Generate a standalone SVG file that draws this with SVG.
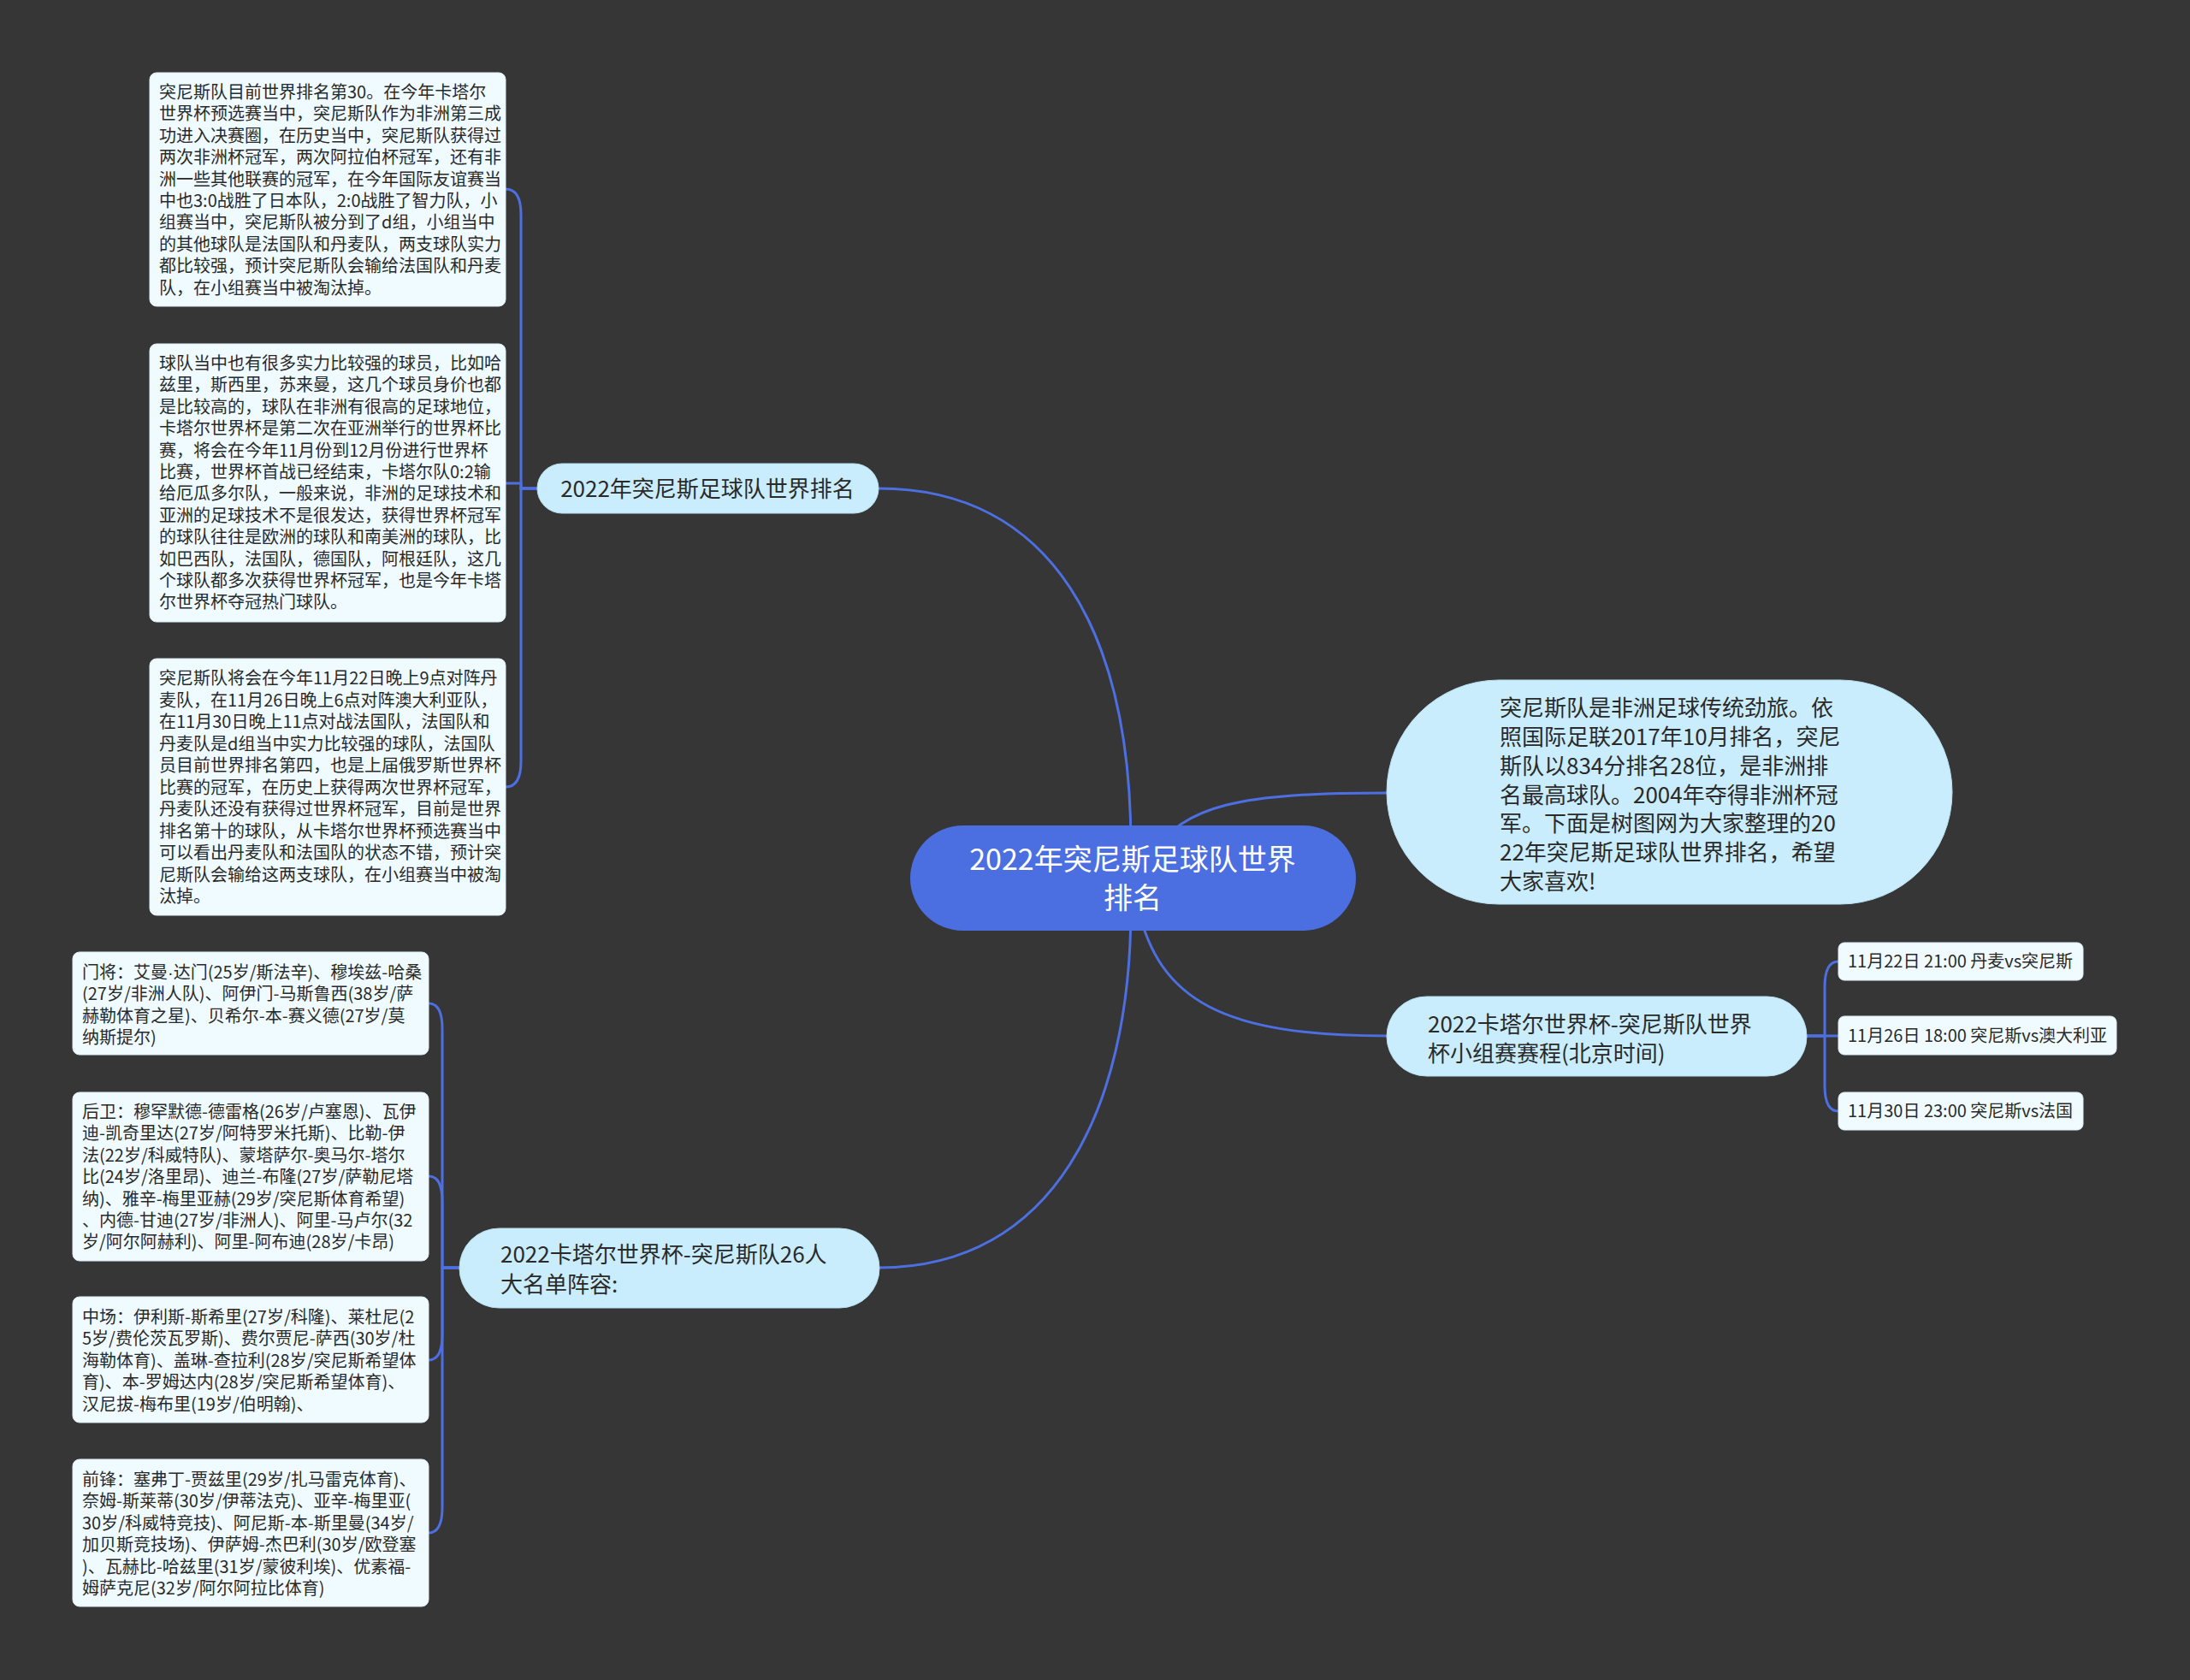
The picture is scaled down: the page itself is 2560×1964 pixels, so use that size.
<svg xmlns="http://www.w3.org/2000/svg" width="2560" height="1964" viewBox="0 0 2560 1964">
<style>
.bg{fill:#363636}
.conn{fill:none;stroke:#4d6fe2;stroke-width:3}
.leaf{fill:#effbff;stroke:#dfeef5;stroke-width:1}
.sub{fill:#c9edfc;stroke:#b6e0f2;stroke-width:1}
.root{fill:#4b6fe0}
.t{font-family:"Noto Sans CJK SC","Noto Sans",sans-serif;fill:#2a2a2a}
.lt{font-size:20px}
.st{font-size:26px}
.rt{font-size:34px;fill:#ffffff}
.dot{font-family:"Liberation Sans",sans-serif}
</style>
<rect class="bg" x="0" y="0" width="2560" height="1964"/>
<g id="connectors">
<path class="conn" d="M1322,990 C1322,740 1230,571 1027,571"/>
<path class="conn" d="M1322,1060 C1322,1300 1230,1482 1028,1482"/>
<path class="conn" d="M1345,1000 C1385,940 1450,927 1621,927"/>
<path class="conn" d="M1330,1060 C1355,1170 1430,1211 1621,1211"/>
<path class="conn" d="M628,571 L609,571 L609,251 Q609,221 591,221"/>
<path class="conn" d="M628,571 L609,571 L609,565 L591,565"/>
<path class="conn" d="M628,571 L609,571 L609,890 Q609,920 591,920"/>
<path class="conn" d="M537,1482 L517,1482 L517,1203 Q517,1173 501,1173"/>
<path class="conn" d="M537,1482 L517,1482 L517,1405 Q517,1375 501,1375"/>
<path class="conn" d="M537,1482 L517,1482 L517,1560 Q517,1590 501,1590"/>
<path class="conn" d="M537,1482 L517,1482 L517,1762 Q517,1792 501,1792"/>
<path class="conn" d="M2112,1211 L2133,1211 L2133,1154 Q2133,1124 2149,1124"/>
<path class="conn" d="M2112,1211 L2149,1211"/>
<path class="conn" d="M2112,1211 L2133,1211 L2133,1269 Q2133,1299 2149,1299"/>
</g>
<g id="root">
<rect class="root" x="1064" y="965" width="521" height="123" rx="61.5"/>
<text class="t rt" text-anchor="middle"><tspan x="1324" y="1017">2022年突尼斯足球队世界</tspan><tspan x="1324" y="1062">排名</tspan></text>
</g>
<g id="n-ranking">
<rect class="sub" x="628" y="542" width="399" height="58" rx="29"/>
<text class="t" style="font-size:26px" x="827" y="581" text-anchor="middle">2022年突尼斯足球队世界排名</text>
</g>
<g id="n-intro">
<rect class="sub" x="1621" y="795" width="661" height="262" rx="131"/>
<text class="t st"><tspan x="1753" y="837">突尼斯队是非洲足球传统劲旅。依</tspan><tspan x="1753" y="871">照国际足联2017年10月排名，突尼</tspan><tspan x="1753" y="905">斯队以834分排名28位，是非洲排</tspan><tspan x="1753" y="939">名最高球队。2004年夺得非洲杯冠</tspan><tspan x="1753" y="972">军。下面是树图网为大家整理的20</tspan><tspan x="1753" y="1006">22年突尼斯足球队世界排名，希望</tspan><tspan x="1753" y="1040">大家喜欢!</tspan></text>
</g>
<g id="n-schedule">
<rect class="sub" x="1621" y="1165" width="491" height="93" rx="46.5"/>
<text class="t st"><tspan x="1669" y="1207">2022卡塔尔世界杯-突尼斯队世界</tspan><tspan x="1669" y="1241">杯小组赛赛程(北京时间)</tspan></text>
</g>
<g id="n-sch1">
<rect class="leaf" x="2149" y="1102" width="286" height="44" rx="7"/>
<text class="t lt" x="2160" y="1131">11月22日 21:00 丹麦vs突尼斯</text>
</g>
<g id="n-sch2">
<rect class="leaf" x="2149" y="1188" width="325" height="45" rx="7"/>
<text class="t lt" x="2160" y="1218">11月26日 18:00 突尼斯vs澳大利亚</text>
</g>
<g id="n-sch3">
<rect class="leaf" x="2149" y="1277" width="286" height="44" rx="7"/>
<text class="t lt" x="2160" y="1306">11月30日 23:00 突尼斯vs法国</text>
</g>
<g id="n-squad">
<rect class="sub" x="537" y="1436" width="491" height="93" rx="46.5"/>
<text class="t st"><tspan x="585" y="1476">2022卡塔尔世界杯-突尼斯队26人</tspan><tspan x="585" y="1511">大名单阵容:</tspan></text>
</g>
<g id="leaf1">
<rect class="leaf" x="175" y="85" width="416" height="273" rx="8"/>
<text class="t lt"><tspan x="186" y="115">突尼斯队目前世界排名第30。在今年卡塔尔</tspan><tspan x="186" y="140.4">世界杯预选赛当中，突尼斯队作为非洲第三成</tspan><tspan x="186" y="165.8">功进入决赛圈，在历史当中，突尼斯队获得过</tspan><tspan x="186" y="191.2">两次非洲杯冠军，两次阿拉伯杯冠军，还有非</tspan><tspan x="186" y="216.6">洲一些其他联赛的冠军，在今年国际友谊赛当</tspan><tspan x="186" y="242">中也3:0战胜了日本队，2:0战胜了智力队，小</tspan><tspan x="186" y="267.4">组赛当中，突尼斯队被分到了d组，小组当中</tspan><tspan x="186" y="292.8">的其他球队是法国队和丹麦队，两支球队实力</tspan><tspan x="186" y="318.2">都比较强，预计突尼斯队会输给法国队和丹麦</tspan><tspan x="186" y="343.6">队，在小组赛当中被淘汰掉。</tspan></text>
</g>
<g id="leaf2">
<rect class="leaf" x="175" y="402" width="416" height="325" rx="8"/>
<text class="t lt"><tspan x="186" y="432">球队当中也有很多实力比较强的球员，比如哈</tspan><tspan x="186" y="457.4">兹里，斯西里，苏来曼，这几个球员身价也都</tspan><tspan x="186" y="482.8">是比较高的，球队在非洲有很高的足球地位，</tspan><tspan x="186" y="508.2">卡塔尔世界杯是第二次在亚洲举行的世界杯比</tspan><tspan x="186" y="533.6">赛，将会在今年11月份到12月份进行世界杯</tspan><tspan x="186" y="559">比赛，世界杯首战已经结束，卡塔尔队0:2输</tspan><tspan x="186" y="584.4">给厄瓜多尔队，一般来说，非洲的足球技术和</tspan><tspan x="186" y="609.8">亚洲的足球技术不是很发达，获得世界杯冠军</tspan><tspan x="186" y="635.2">的球队往往是欧洲的球队和南美洲的球队，比</tspan><tspan x="186" y="660.6">如巴西队，法国队，德国队，阿根廷队，这几</tspan><tspan x="186" y="686">个球队都多次获得世界杯冠军，也是今年卡塔</tspan><tspan x="186" y="711.4">尔世界杯夺冠热门球队。</tspan></text>
</g>
<g id="leaf3">
<rect class="leaf" x="175" y="770" width="416" height="300" rx="8"/>
<text class="t lt"><tspan x="186" y="800">突尼斯队将会在今年11月22日晚上9点对阵丹</tspan><tspan x="186" y="825.5">麦队，在11月26日晚上6点对阵澳大利亚队，</tspan><tspan x="186" y="851">在11月30日晚上11点对战法国队，法国队和</tspan><tspan x="186" y="876.5">丹麦队是d组当中实力比较强的球队，法国队</tspan><tspan x="186" y="902">员目前世界排名第四，也是上届俄罗斯世界杯</tspan><tspan x="186" y="927.5">比赛的冠军，在历史上获得两次世界杯冠军，</tspan><tspan x="186" y="953">丹麦队还没有获得过世界杯冠军，目前是世界</tspan><tspan x="186" y="978.5">排名第十的球队，从卡塔尔世界杯预选赛当中</tspan><tspan x="186" y="1004">可以看出丹麦队和法国队的状态不错，预计突</tspan><tspan x="186" y="1029.5">尼斯队会输给这两支球队，在小组赛当中被淘</tspan><tspan x="186" y="1055">汰掉。</tspan></text>
</g>
<g id="leaf4">
<rect class="leaf" x="85" y="1113" width="416" height="120" rx="8"/>
<text class="t lt"><tspan x="96" y="1144">门将：艾曼<tspan class="dot">·</tspan>达门(25岁/斯法辛)、穆埃兹-哈桑</tspan><tspan x="96" y="1169.4">(27岁/非洲人队)、阿伊门-马斯鲁西(38岁/萨</tspan><tspan x="96" y="1194.8">赫勒体育之星)、贝希尔-本-赛义德(27岁/莫</tspan><tspan x="96" y="1220.2">纳斯提尔)</tspan></text>
</g>
<g id="leaf5">
<rect class="leaf" x="85" y="1277" width="416" height="197" rx="8"/>
<text class="t lt"><tspan x="96" y="1307">后卫：穆罕默德-德雷格(26岁/卢塞恩)、瓦伊</tspan><tspan x="96" y="1332.4">迪-凯奇里达(27岁/阿特罗米托斯)、比勒-伊</tspan><tspan x="96" y="1357.8">法(22岁/科威特队)、蒙塔萨尔-奥马尔-塔尔</tspan><tspan x="96" y="1383.2">比(24岁/洛里昂)、迪兰-布隆(27岁/萨勒尼塔</tspan><tspan x="96" y="1408.6">纳)、雅辛-梅里亚赫(29岁/突尼斯体育希望)</tspan><tspan x="96" y="1434">、内德-甘迪(27岁/非洲人)、阿里-马卢尔(32</tspan><tspan x="96" y="1459.4">岁/阿尔阿赫利)、阿里-阿布迪(28岁/卡昂)</tspan></text>
</g>
<g id="leaf6">
<rect class="leaf" x="85" y="1516" width="416" height="147" rx="8"/>
<text class="t lt"><tspan x="96" y="1547">中场：伊利斯-斯希里(27岁/科隆)、莱杜尼(2</tspan><tspan x="96" y="1572.4">5岁/费伦茨瓦罗斯)、费尔贾尼-萨西(30岁/杜</tspan><tspan x="96" y="1597.8">海勒体育)、盖琳-查拉利(28岁/突尼斯希望体</tspan><tspan x="96" y="1623.2">育)、本-罗姆达内(28岁/突尼斯希望体育)、</tspan><tspan x="96" y="1648.6">汉尼拔-梅布里(19岁/伯明翰)、</tspan></text>
</g>
<g id="leaf7">
<rect class="leaf" x="85" y="1706" width="416" height="172" rx="8"/>
<text class="t lt"><tspan x="96" y="1737">前锋：塞弗丁-贾兹里(29岁/扎马雷克体育)、</tspan><tspan x="96" y="1762.4">奈姆-斯莱蒂(30岁/伊蒂法克)、亚辛-梅里亚(</tspan><tspan x="96" y="1787.8">30岁/科威特竞技)、阿尼斯-本-斯里曼(34岁/</tspan><tspan x="96" y="1813.2">加贝斯竞技场)、伊萨姆-杰巴利(30岁/欧登塞</tspan><tspan x="96" y="1838.6">)、瓦赫比-哈兹里(31岁/蒙彼利埃)、优素福-</tspan><tspan x="96" y="1864">姆萨克尼(32岁/阿尔阿拉比体育)</tspan></text>
</g>
</svg>
